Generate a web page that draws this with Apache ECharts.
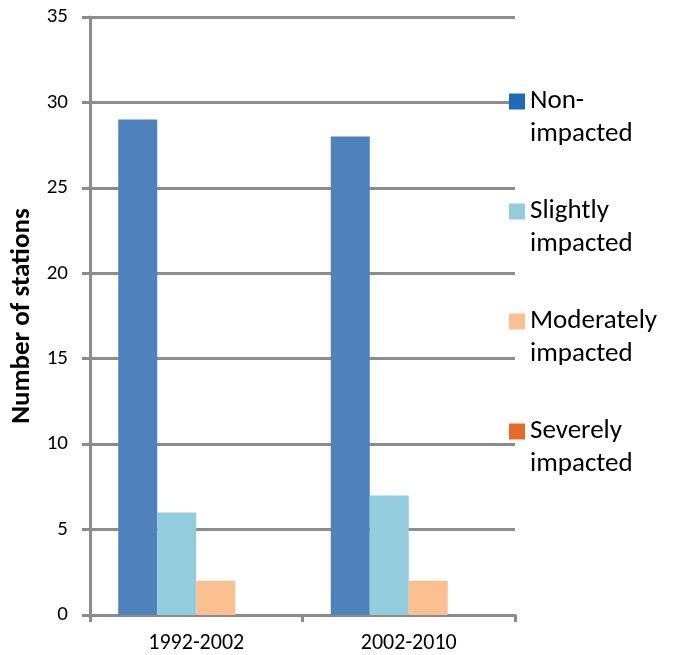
<!DOCTYPE html>
<html><head><meta charset="utf-8">
<script src="https://cdn.jsdelivr.net/npm/echarts@6/dist/echarts.min.js"></script>
<style>html,body{margin:0;padding:0;background:#fff}#c{width:681px;height:655px}</style>
</head><body><div id="c"></div>
<script>
const categories = ['1992-2002', '2002-2010'];
const seriesNames = ['Non-impacted', 'Slightly impacted', 'Moderately impacted', 'Severely impacted'];
const legendLabels = ['Non-\nimpacted', 'Slightly\nimpacted', 'Moderately\nimpacted', 'Severely\nimpacted'];
const nonImpacted = [29, 28];
const slightlyImpacted = [6, 7];
const moderatelyImpacted = [2, 2];
const severelyImpacted = [0, 0];
const yTicks = [0, 5, 10, 15, 20, 25, 30, 35];

const barColors = ['#4F81BD', '#93CDDD', '#FAC090', '#E46C0A'];
const legendColors = ['#1F6BBA', '#93CDDD', '#FAC090', '#E46C24'];
const values = [nonImpacted, slightlyImpacted, moderatelyImpacted, severelyImpacted];
const FONT = 'Carlito, Lato, sans-serif';

const chart = echarts.init(document.getElementById('c'));
chart.setOption({
  animation: false,
  grid: { left: 90, right: 166, top: 17, bottom: 40 },
  legend: {
    orient: 'vertical', left: 504, top: 47,
    itemWidth: 16, itemHeight: 16, itemGap: 11,
    icon: 'rect',
    data: seriesNames.map((n, i) => ({ name: n, itemStyle: { color: legendColors[i] } })),
    formatter: name => '\n' + legendLabels[seriesNames.indexOf(name)],
    textStyle: { fontFamily: FONT, fontSize: 27, color: '#000', lineHeight: 33 }
  },
  xAxis: {
    type: 'category', data: categories,
    axisLine: { lineStyle: { color: '#8C8C8C', width: 3 } },
    axisTick: { show: true, length: 7, lineStyle: { color: '#8C8C8C', width: 3 } },
    axisLabel: { fontFamily: FONT, fontSize: 22, color: '#000', margin: 17 }
  },
  yAxis: {
    type: 'value', min: yTicks[0], max: yTicks[yTicks.length - 1], interval: 5,
    name: 'Number of stations', nameLocation: 'middle', nameGap: 51,
    nameTextStyle: { fontFamily: FONT, fontSize: 27, fontWeight: 'bold', color: '#000' },
    axisLine: { show: true, lineStyle: { color: '#8C8C8C', width: 3 } },
    axisTick: { show: true, length: 8, lineStyle: { color: '#8C8C8C', width: 3 } },
    axisLabel: { fontFamily: FONT, fontSize: 21, color: '#000', margin: 22 },
    splitLine: { lineStyle: { color: '#8C8C8C', width: 3 } }
  },
  series: seriesNames.map((n, i) => ({
    name: n, type: 'bar', data: values[i],
    barWidth: 39, barGap: '0%',
    itemStyle: { color: barColors[i] }
  }))
});
</script></body></html>
